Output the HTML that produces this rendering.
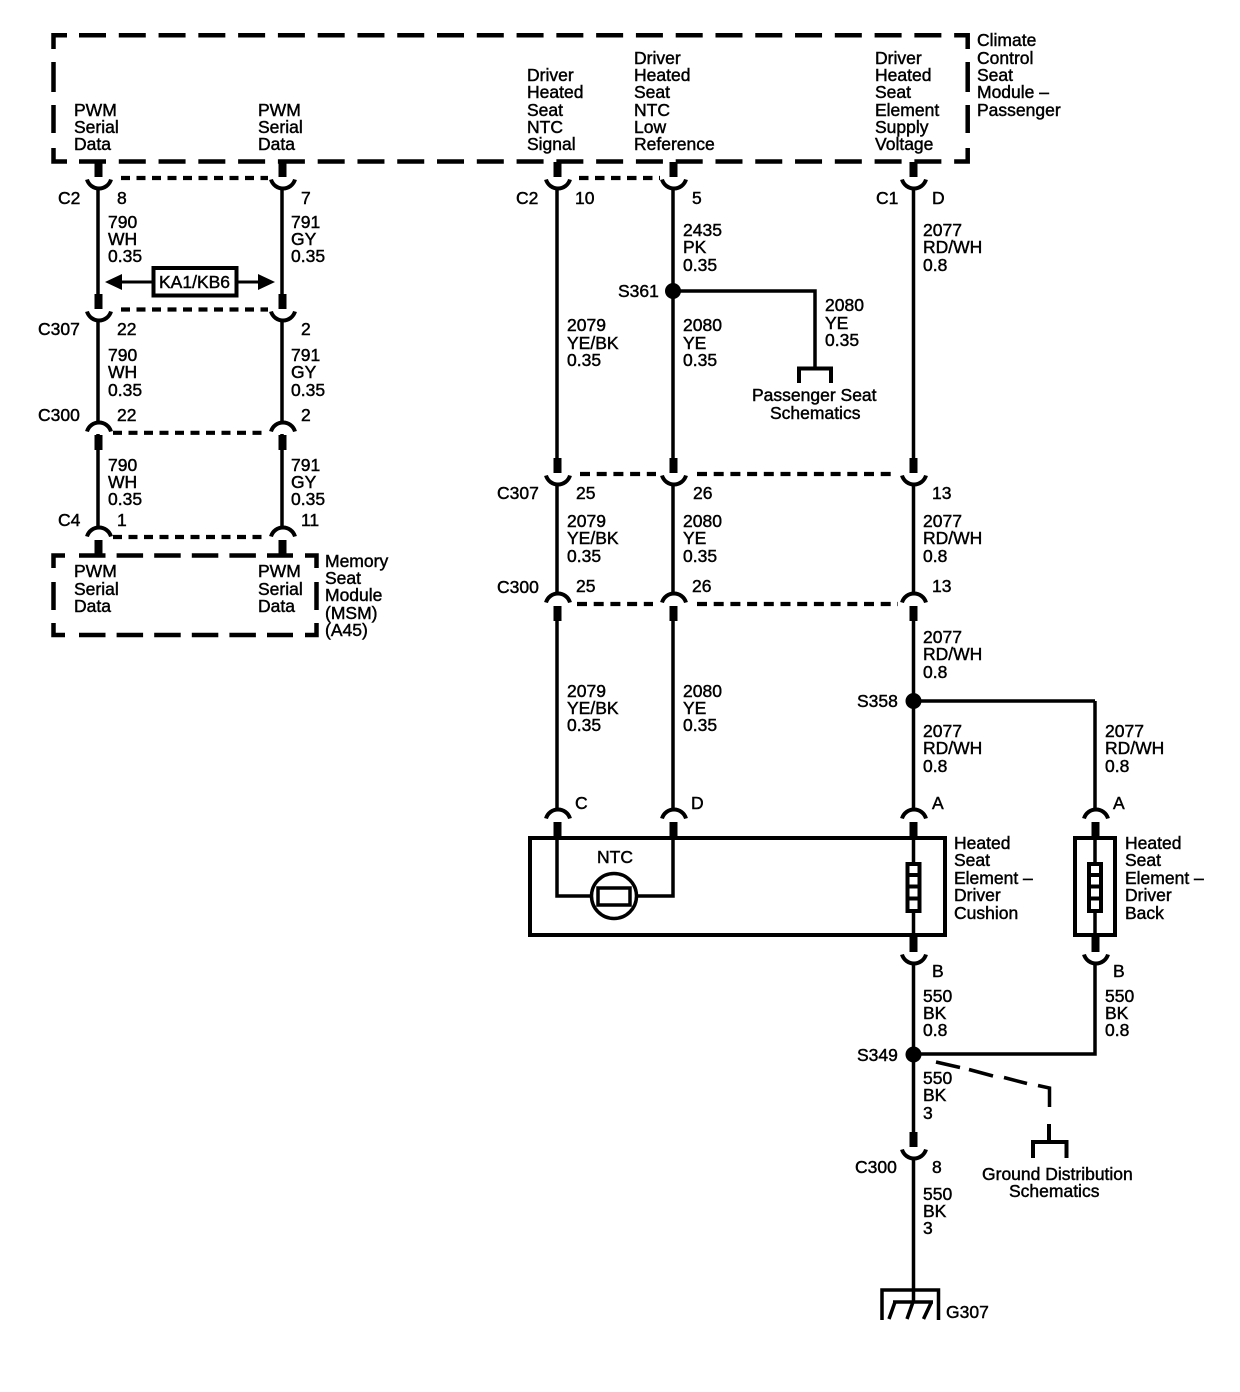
<!DOCTYPE html>
<html><head><meta charset="utf-8"><style>
html,body{margin:0;padding:0;background:#fff}
svg{display:block}
text{font-family:"Liberation Sans",sans-serif;font-size:17.5px;fill:#000;stroke:#000;stroke-width:.45}
</style></head><body>
<svg width="1240" height="1392" viewBox="0 0 1240 1392" xmlns="http://www.w3.org/2000/svg">
<defs>
<g id="u"><path d="M-11,-10.500 A12.500 12.500 0 0 0 13,-10.500" fill="none" stroke="#000" stroke-width="4"/><rect x="-3.500" y="-28" width="8" height="15"/></g>
<g id="n"><path d="M-11,10.500 A12.500 12.500 0 0 1 13,10.500" fill="none" stroke="#000" stroke-width="4"/><rect x="-3.500" y="14" width="8" height="15"/></g>
<g id="el"><rect x="-6" y="2" width="12" height="47" fill="#fff" stroke="#000" stroke-width="4"/><path d="M-7,13H7M-7,24.500H7M-7,36.500H7" stroke="#000" stroke-width="4"/></g>
</defs>

<g fill="none" stroke="#000" stroke-linecap="butt">
<!-- module box -->
<g stroke-width="4.500">
<path d="M53.500,49V35.200H67M955,35.200H967.700V49M53.500,148V161.500H67M955,161.500H967.700V148"/>
<path d="M79,35.200H955M79,161.500H955" stroke-dasharray="27 12.780"/>
<path d="M53.500,62V92M53.500,105V133M967.700,62V92M967.700,105V133"/>
<!-- memory box -->
<path d="M53.500,568V555.500H65M305,555.500H316.500V568M53.500,623V635H65M305,635H316.500V623"/>
<path d="M79,555.500H293M79,635H293" stroke-dasharray="26.500 11.100"/>
<path d="M53.500,582V610M316.500,582V610"/>
</g>
<!-- shorting dashes -->
<g stroke-width="4.200">
<path d="M121,178H268M121,309.500H268M113,432.800H268M113,537H268" stroke-dasharray="9 6.500"/>
<path d="M579,178H660" stroke-dasharray="9.500 6.500"/>
<path d="M580,474H656M697,474H893M577,604H653M697,604H898" stroke-dasharray="10 6.700"/>
</g>
<!-- wires -->
<g stroke-width="3.500">
<path d="M98,190V295M282,190V295M98,322V422M282,322V422M98,434V526M282,434V526"/>
<path d="M557,190V462M673,190V462M913.500,190V462"/>
<path d="M557,486V592M673,486V592M913.500,486V592"/>
<path d="M557,620V808M673,620V808M913.500,620V808M1095,701V808"/>
<path d="M557,835V896H590M638,896H673V835"/>
<path d="M913.500,838V938M1095,838V938"/>
<path d="M913.500,965V1135M913.500,1160V1302M1095,965V1054H913"/>
<path d="M673,291H815V368M913,701H1095"/>
<path d="M799,383V368.500H831V383" stroke-width="4"/>
</g>
<path d="M1033,1158V1142H1066.500V1158M1049,1124V1142" stroke-width="4"/>
<path d="M936,1062L960,1067.500M969,1069.500L993,1076M1004,1077.500L1027,1083.500M1038,1085.500L1049.500,1088V1107" stroke-width="3.500"/>
<!-- component boxes -->
<rect x="530" y="838" width="415" height="97" stroke-width="4"/>
<rect x="1075" y="838" width="40" height="97" stroke-width="4"/>
<!-- NTC -->
<circle cx="614" cy="896" r="22.500" stroke-width="3.500"/>
<rect x="598" y="888" width="32" height="17" stroke-width="3.500"/>
<!-- KA1 arrow -->
<path d="M118,282H152M237,282H262" stroke-width="3"/>
<rect x="153.500" y="268" width="83" height="27.500" stroke-width="4"/>
<!-- ground -->
<path d="M882,1320V1290H938.500V1320" stroke-width="3.500"/>
<path d="M893,1302H933" stroke-width="3.500"/>
<path d="M895,1302L889,1319M913,1302L907,1319M931.500,1302L923.500,1319" stroke-width="3.500"/>
</g>
<path d="M105,282L122,274V290ZM275,282L258,274V290Z"/>
<circle cx="673" cy="291" r="8"/><circle cx="913.500" cy="701" r="8"/><circle cx="913.500" cy="1054.500" r="8"/>

<!-- connectors -->
<use href="#u" x="98" y="190"/><use href="#u" x="282" y="190"/><use href="#u" x="557" y="190"/><use href="#u" x="673" y="190"/><use href="#u" x="913" y="190"/>
<use href="#u" x="98" y="322"/><use href="#u" x="282" y="322"/>
<use href="#u" x="557" y="486"/><use href="#u" x="673" y="486"/><use href="#u" x="913" y="486"/>
<use href="#u" x="913" y="965"/><use href="#u" x="1095" y="965"/><use href="#u" x="913" y="1160"/>
<use href="#n" x="98" y="421"/><use href="#n" x="282" y="421"/><use href="#n" x="98" y="526"/><use href="#n" x="282" y="526"/>
<use href="#n" x="557" y="592"/><use href="#n" x="673" y="592"/><use href="#n" x="913" y="592"/>
<use href="#n" x="557" y="808"/><use href="#n" x="673" y="808"/><use href="#n" x="913" y="808"/><use href="#n" x="1095" y="808"/>
<use href="#el" x="913.500" y="862"/><use href="#el" x="1095" y="862"/>

<!-- header labels -->
<text x="74" y="116">PWM</text><text x="74" y="133">Serial</text><text x="74" y="150">Data</text>
<text x="258" y="116">PWM</text><text x="258" y="133">Serial</text><text x="258" y="150">Data</text>
<text x="527" y="81">Driver</text><text x="527" y="98">Heated</text><text x="527" y="116">Seat</text><text x="527" y="133">NTC</text><text x="527" y="150">Signal</text>
<text x="634" y="64">Driver</text><text x="634" y="81">Heated</text><text x="634" y="98">Seat</text><text x="634" y="116">NTC</text><text x="634" y="133">Low</text><text x="634" y="150">Reference</text>
<text x="875" y="64">Driver</text><text x="875" y="81">Heated</text><text x="875" y="98">Seat</text><text x="875" y="116">Element</text><text x="875" y="133">Supply</text><text x="875" y="150">Voltage</text>
<text x="977" y="46">Climate</text><text x="977" y="64">Control</text><text x="977" y="81">Seat</text><text x="977" y="98">Module –</text><text x="977" y="116">Passenger</text>

<!-- left column -->
<text x="58" y="204">C2</text><text x="117" y="204">8</text><text x="301" y="204">7</text>
<text x="108" y="228">790</text><text x="108" y="245">WH</text><text x="108" y="262">0.35</text>
<text x="291" y="228">791</text><text x="291" y="245">GY</text><text x="291" y="262">0.35</text>
<text x="159" y="288">KA1/KB6</text>
<text x="38" y="335">C307</text><text x="117" y="335">22</text><text x="301" y="335">2</text>
<text x="108" y="361">790</text><text x="108" y="378">WH</text><text x="108" y="396">0.35</text>
<text x="291" y="361">791</text><text x="291" y="378">GY</text><text x="291" y="396">0.35</text>
<text x="38" y="421">C300</text><text x="117" y="421">22</text><text x="301" y="421">2</text>
<text x="108" y="471">790</text><text x="108" y="488">WH</text><text x="108" y="505">0.35</text>
<text x="291" y="471">791</text><text x="291" y="488">GY</text><text x="291" y="505">0.35</text>
<text x="58" y="526">C4</text><text x="117" y="526">1</text><text x="301" y="526">11</text>
<text x="74" y="577">PWM</text><text x="74" y="595">Serial</text><text x="74" y="612">Data</text>
<text x="258" y="577">PWM</text><text x="258" y="595">Serial</text><text x="258" y="612">Data</text>
<text x="325" y="567">Memory</text><text x="325" y="584">Seat</text><text x="325" y="601">Module</text><text x="325" y="619">(MSM)</text><text x="325" y="636">(A45)</text>

<!-- center/right top -->
<text x="516" y="204">C2</text><text x="575" y="204">10</text><text x="692" y="204">5</text>
<text x="876" y="204">C1</text><text x="932" y="204">D</text>
<text x="683" y="236">2435</text><text x="683" y="253">PK</text><text x="683" y="271">0.35</text>
<text x="923" y="236">2077</text><text x="923" y="253">RD/WH</text><text x="923" y="271">0.8</text>
<text x="618" y="297">S361</text>
<text x="825" y="311">2080</text><text x="825" y="329">YE</text><text x="825" y="346">0.35</text>
<text x="567" y="331">2079</text><text x="567" y="349">YE/BK</text><text x="567" y="366">0.35</text>
<text x="683" y="331">2080</text><text x="683" y="349">YE</text><text x="683" y="366">0.35</text>
<text x="752" y="401">Passenger Seat</text><text x="770" y="419">Schematics</text>

<text x="497" y="499">C307</text><text x="576" y="499">25</text><text x="693" y="499">26</text><text x="932" y="499">13</text>
<text x="567" y="527">2079</text><text x="567" y="544">YE/BK</text><text x="567" y="562">0.35</text>
<text x="683" y="527">2080</text><text x="683" y="544">YE</text><text x="683" y="562">0.35</text>
<text x="923" y="527">2077</text><text x="923" y="544">RD/WH</text><text x="923" y="562">0.8</text>
<text x="497" y="593">C300</text><text x="576" y="592">25</text><text x="692" y="592">26</text><text x="932" y="592">13</text>
<text x="923" y="643">2077</text><text x="923" y="660">RD/WH</text><text x="923" y="678">0.8</text>
<text x="567" y="697">2079</text><text x="567" y="714">YE/BK</text><text x="567" y="731">0.35</text>
<text x="683" y="697">2080</text><text x="683" y="714">YE</text><text x="683" y="731">0.35</text>
<text x="857" y="707">S358</text>
<text x="923" y="737">2077</text><text x="923" y="754">RD/WH</text><text x="923" y="772">0.8</text>
<text x="1105" y="737">2077</text><text x="1105" y="754">RD/WH</text><text x="1105" y="772">0.8</text>
<text x="575" y="809">C</text><text x="691" y="809">D</text><text x="932" y="809">A</text><text x="1113" y="809">A</text>
<text x="597" y="863">NTC</text>
<text x="954" y="849">Heated</text><text x="954" y="866">Seat</text><text x="954" y="884">Element –</text><text x="954" y="901">Driver</text><text x="954" y="919">Cushion</text>
<text x="1125" y="849">Heated</text><text x="1125" y="866">Seat</text><text x="1125" y="884">Element –</text><text x="1125" y="901">Driver</text><text x="1125" y="919">Back</text>
<text x="932" y="977">B</text><text x="1113" y="977">B</text>
<text x="923" y="1002">550</text><text x="923" y="1019">BK</text><text x="923" y="1036">0.8</text>
<text x="1105" y="1002">550</text><text x="1105" y="1019">BK</text><text x="1105" y="1036">0.8</text>
<text x="857" y="1061">S349</text>
<text x="923" y="1084">550</text><text x="923" y="1101">BK</text><text x="923" y="1119">3</text>
<text x="855" y="1173">C300</text><text x="932" y="1173">8</text>
<text x="923" y="1200">550</text><text x="923" y="1217">BK</text><text x="923" y="1234">3</text>
<text x="982" y="1180">Ground Distribution</text><text x="1009" y="1197">Schematics</text>
<text x="946" y="1318">G307</text>
</svg>
</body></html>
